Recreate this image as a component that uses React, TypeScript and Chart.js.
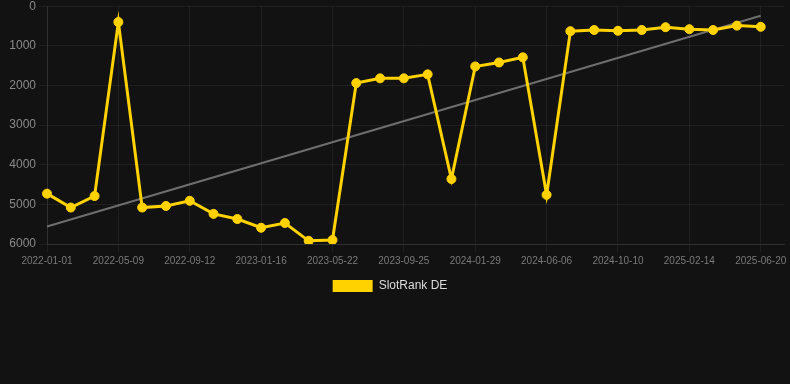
import React, { useEffect, useRef } from "react";
import { Chart, registerables } from "chart.js";

Chart.register(...registerables);

const dates: string[] = [
  "2022-01-01", "2022-02-13", "2022-03-28", "2022-05-09", "2022-06-21", "2022-08-01",
  "2022-09-12", "2022-10-24", "2022-12-05", "2023-01-16", "2023-02-27", "2023-04-10",
  "2023-05-22", "2023-07-03", "2023-08-14", "2023-09-25", "2023-11-06", "2023-12-18",
  "2024-01-29", "2024-03-12", "2024-04-24", "2024-06-06", "2024-07-18", "2024-08-29",
  "2024-10-10", "2024-11-21", "2025-01-03", "2025-02-14", "2025-03-28", "2025-05-09",
  "2025-06-20", "2025-08-01",
];

const slotRankDE: (number | null)[] = [
  4730, 5080, 4790, 400, 5080, 5040, 4910, 5240, 5370, 5590, 5470, 5920,
  5900, 1940, 1820, 1820, 1720, 4360, 1520, 1420, 1290, 4760, 630, 600,
  620, 600, 530, 580, 600, 490, 520, null,
];

const trendStart = 5560;
const trendEnd = 240;

const trendLine: (number | null)[] = dates.map((_, i) =>
  i === 0 ? trendStart : i === dates.length - 2 ? trendEnd : null
);

const yTicks = [0, 1000, 2000, 3000, 4000, 5000, 6000];

export default function App() {
  const canvasRef = useRef<HTMLCanvasElement | null>(null);

  useEffect(() => {
    document.body.style.margin = "0";
    document.body.style.background = "#121212";
    const canvas = canvasRef.current;
    if (!canvas) return;
    const chart = new Chart(canvas, {
      type: "line",
      data: {
        labels: dates,
        datasets: [
          {
            label: "SlotRank DE",
            data: slotRankDE,
            borderColor: "#FFD200",
            backgroundColor: "#FFD200",
            borderWidth: 3,
            pointRadius: 4.5,
            pointBorderWidth: 1,
            pointBackgroundColor: "#FFD200",
            pointBorderColor: "#FFD200",
            tension: 0,
            fill: false,
          },
          {
            label: "Trend",
            data: trendLine,
            borderColor: "#6e6e6e",
            backgroundColor: "#6e6e6e",
            borderWidth: 2,
            pointRadius: 0,
            spanGaps: true,
            fill: false,
          },
        ],
      },
      options: {
        animation: false,
        responsive: false,
        maintainAspectRatio: false,
        layout: { padding: { left: -5, right: 5 } },
        plugins: {
          legend: {
            position: "bottom",
            labels: {
              color: "#dddddd",
              font: { size: 12 },
              boxWidth: 40,
              boxHeight: 12,
              generateLabels: (c) =>
                Chart.defaults.plugins.legend.labels
                  .generateLabels(c)
                  .map((it) => ({ ...it, lineWidth: 0 })),
              filter: (item) => item.text === "SlotRank DE",
            },
          },
          tooltip: { enabled: false },
        },
        scales: {
          x: {
            type: "category",
            grid: { color: "rgba(255,255,255,0.06)" },
            border: { color: "rgba(255,255,255,0.08)" },
            ticks: {
              color: "#7a7a7a",
              font: { size: 10 },
              autoSkip: true,
              maxTicksLimit: 11,
              maxRotation: 0,
            },
          },
          y: {
            reverse: true,
            min: 0,
            max: 6000,
            grid: { color: "rgba(255,255,255,0.06)" },
            border: { color: "rgba(255,255,255,0.08)" },
            afterBuildTicks: (axis) => {
              axis.ticks = yTicks.map((v) => ({ value: v }));
            },
            afterFit: (axis) => {
              axis.width = 52;
            },
            ticks: {
              color: "#8a8a8a",
              font: { size: 12 },
              callback: (v) => String(v),
            },
          },
        },
      },
    });
    return () => chart.destroy();
  }, []);

  return (
    <div style={{ width: 790, height: 384, background: "#121212", overflow: "hidden" }}>
      <canvas
        ref={canvasRef}
        width={790}
        height={306}
        style={{ display: "block", marginTop: -4 }}
      />
    </div>
  );
}
